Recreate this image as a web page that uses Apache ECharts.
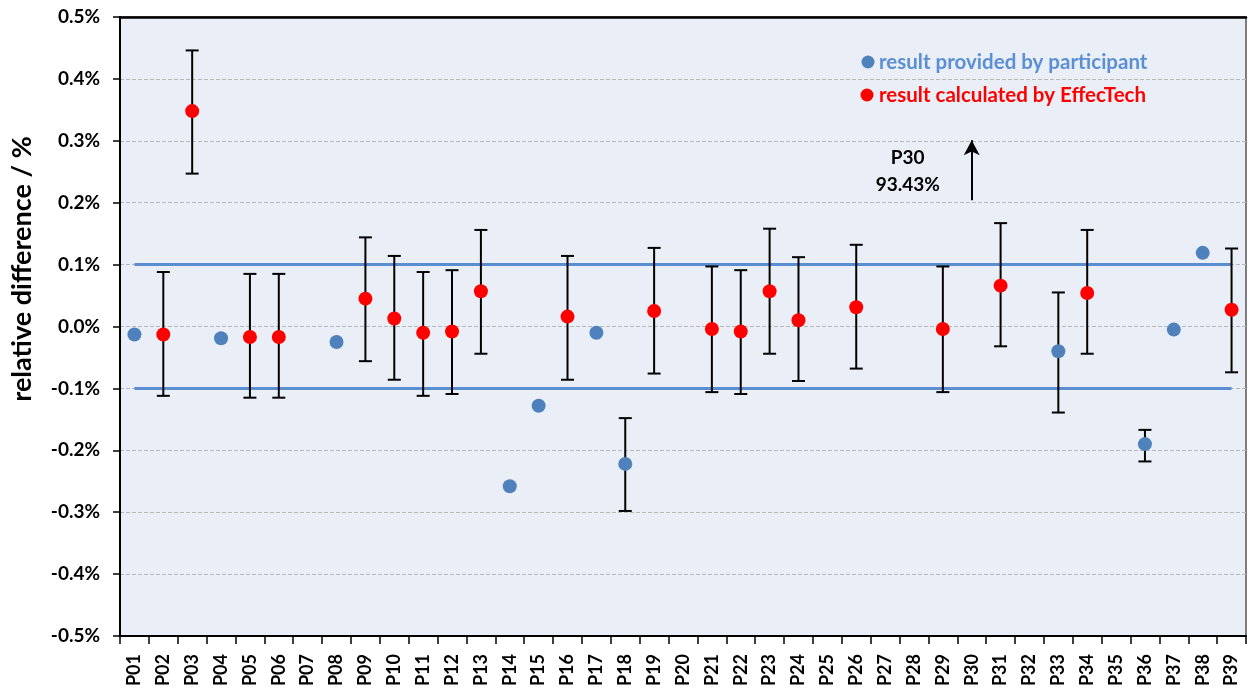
<!DOCTYPE html>
<html>
<head>
<meta charset="utf-8">
<script src="https://cdn.jsdelivr.net/npm/echarts@6/dist/echarts.min.js"></script>
<style>
html,body{margin:0;padding:0;background:#fff;}
#main{width:1250px;height:695px;}
</style>
</head>
<body>
<div id="main"></div>
<script>
// ---- data ----
const categories = ['P01','P02','P03','P04','P05','P06','P07','P08','P09','P10','P11','P12','P13','P14','P15','P16','P17','P18','P19','P20','P21','P22','P23','P24','P25','P26','P27','P28','P29','P30','P31','P32','P33','P34','P35','P36','P37','P38','P39'];
// result provided by participant (blue), null = not shown
const participantValues = [-0.013,null,null,-0.019,null,null,null,-0.025,null,null,null,null,null,-0.258,-0.128,null,-0.010,-0.222,null,null,null,null,null,null,null,null,null,null,null,null,null,null,-0.040,null,null,-0.190,-0.005,0.119,null];
// result calculated by EffecTech (red)
const calculatedValues = [null,-0.013,0.348,null,-0.017,-0.017,null,null,0.045,0.013,-0.010,-0.008,0.057,null,null,0.016,null,null,0.025,null,-0.004,-0.008,0.057,0.010,null,0.031,null,null,-0.004,null,0.066,null,null,0.054,null,null,null,null,0.027];
// error bars: [category, low, high]
const errorBars = [
  ['P02',-0.112,0.088],['P03',0.247,0.446],['P05',-0.115,0.085],['P06',-0.115,0.085],
  ['P09',-0.056,0.144],['P10',-0.086,0.114],['P11',-0.112,0.088],['P12',-0.109,0.091],
  ['P13',-0.044,0.156],['P16',-0.086,0.114],['P18',-0.298,-0.148],['P19',-0.076,0.127],
  ['P21',-0.106,0.097],['P22',-0.109,0.091],['P23',-0.044,0.158],['P24',-0.088,0.112],
  ['P26',-0.068,0.132],['P29',-0.106,0.097],['P31',-0.032,0.167],['P33',-0.139,0.055],
  ['P34',-0.044,0.156],['P36',-0.218,-0.167],['P39',-0.074,0.126]
];
const limitUpper = 0.1;
const limitLower = -0.1;
const yTicks = [-0.5,-0.4,-0.3,-0.2,-0.1,0,0.1,0.2,0.3,0.4,0.5];
const offscale = {cat:'P30', label:'P30', value:'93.43%', from:0.204, to:0.301};

const upperLine = categories.map((c,i)=> (i===0||i===categories.length-1)? limitUpper : null);
const lowerLine = categories.map((c,i)=> (i===0||i===categories.length-1)? limitLower : null);

const FONT = 'Lato';
const chart = echarts.init(document.getElementById('main'));
const option = {
  animation:false,
  backgroundColor:'#ffffff',
  grid:{left:120,top:17,right:4,bottom:59,show:true,backgroundColor:'#eaeff7',borderColor:'#555',borderWidth:1.5},
  xAxis:[{
    type:'category',data:categories,boundaryGap:true,position:'bottom',
    axisLine:{show:true,onZero:false,lineStyle:{color:'#000',width:2}},
    axisTick:{show:true,inside:false,length:8,lineStyle:{color:'#000',width:1.5}},
    axisLabel:{rotate:90,margin:18,fontFamily:FONT,fontWeight:'bold',fontSize:18,color:'#000',interval:0},
    splitLine:{show:false}
  },{
    type:'category',data:categories,position:'top',
    axisLine:{show:true,onZero:false,lineStyle:{color:'#000',width:2.5}},
    axisTick:{show:false},axisLabel:{show:false},splitLine:{show:false}
  }],
  yAxis:{
    type:'value',min:-0.5,max:0.5,interval:0.1,
    axisLine:{show:true,onZero:false,lineStyle:{color:'#000',width:2}},
    axisTick:{show:true,length:7,lineStyle:{color:'#000',width:1.5}},
    axisLabel:{margin:20,fontFamily:FONT,fontWeight:'bold',fontSize:19,color:'#000',
      formatter:v=>{const t=yTicks.find(x=>Math.abs(x-v)<1e-9);return (t!==undefined?t:v).toFixed(1)+'%';}},
    splitLine:{show:true,lineStyle:{color:'#b8b8b8',type:[4,2],width:1}}
  },
  series:[
    {type:'line',data:upperLine,connectNulls:true,symbol:'none',lineStyle:{color:'#5a8ed0',width:3},silent:true,z:2},
    {type:'line',data:lowerLine,connectNulls:true,symbol:'none',lineStyle:{color:'#5a8ed0',width:3},silent:true,z:2},
    {type:'custom',z:3,data:errorBars.map(e=>[categories.indexOf(e[0]),e[1],e[2]]),
      renderItem:function(params,api){
        const x=api.value(0);
        const lo=api.coord([x,api.value(1)]);
        const hi=api.coord([x,api.value(2)]);
        const w=6.5;
        const st={stroke:'#000',lineWidth:2};
        return {type:'group',children:[
          {type:'line',shape:{x1:lo[0],y1:lo[1],x2:hi[0],y2:hi[1]},style:st},
          {type:'line',shape:{x1:lo[0]-w,y1:lo[1],x2:lo[0]+w,y2:lo[1]},style:st},
          {type:'line',shape:{x1:hi[0]-w,y1:hi[1],x2:hi[0]+w,y2:hi[1]},style:st}
        ]};
      },
      encode:{x:0,y:[1,2]}
    },
    {type:'scatter',name:'result provided by participant',data:participantValues,symbol:'circle',symbolSize:14,itemStyle:{color:'#4f81bd',opacity:1},z:5},
    {type:'scatter',name:'result calculated by EffecTech',data:calculatedValues,symbol:'circle',symbolSize:14,itemStyle:{color:'#ff0000',opacity:1},z:5,
      markLine:{silent:true,symbol:['none','arrow'],symbolSize:[12,15],label:{show:false},
        lineStyle:{color:'#000',width:2,type:'solid'},
        data:[[{coord:[offscale.cat,offscale.from]},{coord:[offscale.cat,offscale.to]}]]}
    }
  ]
};
chart.setOption(option);

const p30 = chart.convertToPixel({xAxisIndex:0,yAxisIndex:0},[offscale.cat,0.25]);
chart.setOption({graphic:[
  {type:'text',x:22,y:269,rotation:Math.PI/2,
    style:{text:'relative difference / %',font:'bold 27px '+FONT,fill:'#000',align:'center',verticalAlign:'middle'}},
  {type:'circle',shape:{cx:868,cy:62,r:6.5},style:{fill:'#4f81bd'}},
  {type:'text',x:879,y:62,style:{text:'result provided by participant',font:'bold 20.5px '+FONT,fill:'#5b8fd3',verticalAlign:'middle'}},
  {type:'circle',shape:{cx:867,cy:95,r:6.5},style:{fill:'#ff0000'}},
  {type:'text',x:879,y:95,style:{text:'result calculated by EffecTech',font:'bold 20.5px '+FONT,fill:'#ff0000',verticalAlign:'middle'}},
  {type:'text',x:p30[0]-64,y:158,style:{text:offscale.label,font:'bold 19px '+FONT,fill:'#000',align:'center',verticalAlign:'middle'}},
  {type:'text',x:p30[0]-64,y:185,style:{text:offscale.value,font:'bold 19px '+FONT,fill:'#000',align:'center',verticalAlign:'middle'}}
]});
</script>
</body>
</html>
